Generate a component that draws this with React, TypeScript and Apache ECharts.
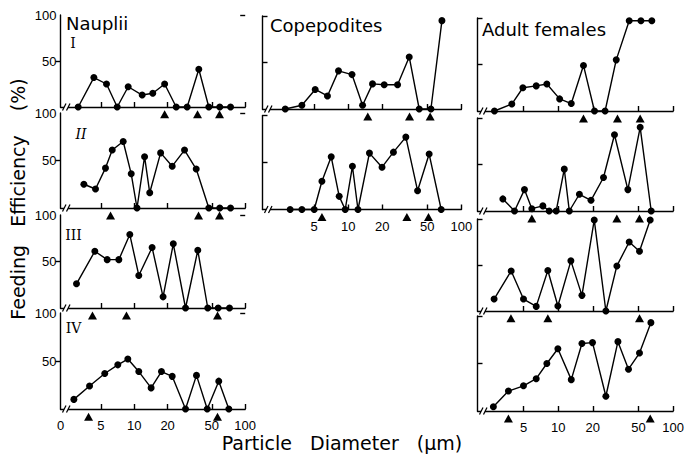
import React, { useEffect, useRef } from "react";
import * as echarts from "echarts";

// ---------- data (diameter in µm, feeding efficiency in %) ----------
const naupliiIDiam = [3.13, 4.33, 5.63, 7.03, 8.83, 11.8, 14.7, 18.8, 23.9, 30.0, 38.2, 47.0, 59.0, 73.8];
const naupliiIEff = [0, 32, 25, 0, 22, 13, 15, 25, 0, 0, 41, 0, 0, 0];
const naupliiITri = [18.8, 37.2, 58.7];

const naupliiIIDiam = [3.52, 4.48, 5.51, 6.34, 7.96, 9.4, 10.6, 12.4, 13.8, 17.3, 22.0, 28.4, 36.2, 47.0, 59.0, 73.8];
const naupliiIIEff = [25, 20, 42, 61, 70, 36, 0, 54, 16, 58, 44, 61, 41, 0, 0, 0];
const naupliiIITri = [6.12, 38.0, 58.7];

const naupliiIIIDiam = [3.02, 4.42, 5.71, 7.27, 9.13, 11.0, 14.5, 18.2, 22.5, 29.0, 37.4, 46.0, 57.1, 72.2];
const naupliiIIIEff = [26, 61, 52, 52, 79, 35, 65, 12, 69, 0, 62, 0, 0, 0];
const naupliiIIITri = [4.21, 8.52, 56.3];

const naupliiIVDiam = [2.86, 3.96, 5.43, 7.12, 8.76, 11.0, 14.2, 17.6, 22.0, 29.0, 36.4, 45.5, 57.8, 71.2];
const naupliiIVEff = [10, 24, 37, 46, 52, 39, 22, 39, 34, 0, 35, 0, 29, 0];
const naupliiIVTri = [3.88, 56.3];

const copeIDiam = [2.78, 3.9, 5.11, 6.56, 8.21, 10.8, 13.4, 16.4, 20.8, 27.3, 34.6, 42.4, 53.8, 67.3];
const copeIEff = [0, 4, 21, 14, 41, 37, 4, 27, 26, 26, 56, 0, 0, 95];
const copeITri = [14.9, 34.8, 53.0];

const copeIIDiam = [3.07, 3.9, 5.01, 5.86, 7.08, 8.33, 9.41, 10.9, 12.2, 15.4, 19.9, 25.1, 32.3, 41.0, 51.9, 66.3];
const copeIIEff = [0, 0, 0, 30, 56, 14, 0, 46, 0, 60, 45, 61, 77, 20, 59, 0];
const copeIITri = [5.86, 33.0, 51.2];

const adultIDiam = [2.79, 3.95, 4.93, 6.44, 7.97, 10.3, 13.0, 16.6, 20.7, 25.6, 32.0, 41.5, 52.5, 65.3];
const adultIEff = [0, 7.5, 25, 27, 29, 13, 8, 49, 0, 0, 55, 97, 97, 97];
const adultITri = [16.6, 32.8, 51.7];

const adultIIDiam = [3.3, 4.17, 5.09, 5.9, 7.36, 8.35, 9.61, 11.3, 12.5, 15.3, 19.3, 24.8, 30.9, 40.4, 51.7, 64.5];
const adultIIEff = [13, 0, 23, 2.5, 5.5, 0, 0, 45, 0, 18, 11.5, 36, 82, 23, 90, 0];
const adultIITri = [5.9, 32.4, 51.0];

const adultIIIDiam = [2.77, 3.9, 4.99, 6.44, 8.13, 9.94, 12.9, 16.1, 20.6, 26.0, 32.4, 41.5, 51.0, 63.2];
const adultIIIEff = [13, 43.5, 13, 5, 44, 5.5, 54.5, 17, 99, 0, 49, 75, 65, 99];
const adultIIITri = [3.88, 8.13, 51.0];

const adultIVDiam = [2.73, 3.69, 4.99, 6.44, 7.97, 9.94, 13.0, 16.1, 19.9, 26.0, 33.1, 40.9, 51.0, 64.1];
const adultIVEff = [4.5, 21, 26.5, 34, 50, 65.5, 33, 71, 72, 15.5, 73, 44, 61, 93];
const adultIVTri = [3.69, 63.2];

const columnTitles = ["Nauplii", "Copepodites", "Adult females"];
const rowNumerals = ["I", "II", "III", "IV"];
const xTickDiams = [5, 10, 20, 50, 100];
const xZeroLabel = "0";
const yTickValues = [50, 100];
const yAxisTitle = "Feeding   Efficiency    (%)";
const xAxisTitle = "Particle   Diameter   (\u00b5m)";

// ---------- layout ----------
const LOG_MAX = 2;
const colMin = [0.336, 0.243, 0.298];
const colLeft = [60.5, 262.5, 477.5];
const colWidth = [184.7, 198.9, 195.6];
const rowBox: number[][][] = [
  [[15, 92], [113, 95], [215, 93], [313, 96]],
  [[16, 93], [115.5, 94]],
  [[18, 93], [118, 93], [219, 92], [316, 95]],
];
const TRI_Y = -8;
const FONT = "DejaVu Sans";
const TICK_FONT = "Liberation Sans";

const panels = [
  { col: 0, row: 0, diam: naupliiIDiam, eff: naupliiIEff, tri: naupliiITri },
  { col: 0, row: 1, diam: naupliiIIDiam, eff: naupliiIIEff, tri: naupliiIITri },
  { col: 0, row: 2, diam: naupliiIIIDiam, eff: naupliiIIIEff, tri: naupliiIIITri },
  { col: 0, row: 3, diam: naupliiIVDiam, eff: naupliiIVEff, tri: naupliiIVTri, bottom: true },
  { col: 1, row: 0, diam: copeIDiam, eff: copeIEff, tri: copeITri },
  { col: 1, row: 1, diam: copeIIDiam, eff: copeIIEff, tri: copeIITri, bottom: true },
  { col: 2, row: 0, diam: adultIDiam, eff: adultIEff, tri: adultITri },
  { col: 2, row: 1, diam: adultIIDiam, eff: adultIIEff, tri: adultIITri },
  { col: 2, row: 2, diam: adultIIIDiam, eff: adultIIIEff, tri: adultIIITri },
  { col: 2, row: 3, diam: adultIVDiam, eff: adultIVEff, tri: adultIVTri, bottom: true },
];

const black = "#000";
const lineStyle = { color: black, width: 1.4 };

function buildOption() {
  const xTickVals = xTickDiams.map((d) => Math.log10(d));
  const grid: any[] = [];
  const xAxis: any[] = [];
  const yAxis: any[] = [];
  const series: any[] = [];
  panels.forEach((p, i) => {
    const [top, height] = rowBox[p.col][p.row];
    grid.push({ left: colLeft[p.col], top, width: colWidth[p.col], height, containLabel: false });
    const min = colMin[p.col];
    xAxis.push({
      type: "value",
      gridIndex: i,
      min,
      max: LOG_MAX,
      position: "bottom",
      axisLine: { show: true, onZero: false, lineStyle },
      axisTick: { show: true, inside: true, length: 5, customValues: xTickVals, lineStyle },
      axisLabel: {
        show: !!p.bottom,
        customValues: p.col === 0 ? [min, ...xTickVals] : xTickVals,
        formatter: (v: number) => (v < 0.5 ? xZeroLabel : String(Math.round(Math.pow(10, v)))),
        color: black,
        fontSize: 13,
        fontFamily: TICK_FONT,
        margin: 10,
      },
      splitLine: { show: false },
    });
    const yIdx = yAxis.length;
    if (p.col === 0) {
      yAxis.push({
        type: "value",
        gridIndex: i,
        min: 0,
        max: 100,
        axisLine: { show: true, onZero: false, lineStyle },
        axisTick: { show: true, inside: false, length: 5, customValues: [50], lineStyle },
        axisLabel: {
          show: true,
          customValues: yTickValues,
          color: black,
          fontSize: 13,
          fontFamily: TICK_FONT,
          margin: 4,
        },
        splitLine: { show: false },
      });
      yAxis.push({
        type: "value",
        gridIndex: i,
        min: 0,
        max: 100,
        axisLine: { show: false, onZero: false },
        axisTick: { show: true, inside: true, length: 5, customValues: [100], lineStyle },
        axisLabel: { show: false },
        splitLine: { show: false },
      });
    } else {
      yAxis.push({
        type: "value",
        gridIndex: i,
        min: 0,
        max: 100,
        axisLine: { show: true, onZero: false, lineStyle },
        axisTick: { show: true, inside: true, length: 5, customValues: yTickValues, lineStyle },
        axisLabel: { show: false },
        splitLine: { show: false },
      });
    }
    series.push({
      type: "line",
      xAxisIndex: i,
      yAxisIndex: yIdx,
      data: p.diam.map((d, k) => [Math.log10(d), p.eff[k]]),
      symbol: "circle",
      symbolSize: 7,
      showSymbol: true,
      clip: false,
      lineStyle,
      itemStyle: { color: black },
      silent: true,
    });
    series.push({
      type: "scatter",
      xAxisIndex: i,
      yAxisIndex: yIdx,
      data: p.tri.map((d) => [Math.log10(d), TRI_Y]),
      symbol: "triangle",
      symbolSize: [9, 8],
      clip: false,
      itemStyle: { color: black, opacity: 1 },
      silent: true,
    });
  });
  return { animation: false, backgroundColor: "#fff", grid, xAxis, yAxis, series };
}

const textStyle = (text: string, size: number, family: string, extra: any = {}) => ({
  text,
  x: 0,
  y: 0,
  fill: black,
  fontSize: size,
  fontFamily: family,
  ...extra,
});

export default function App() {
  const ref = useRef<HTMLDivElement>(null);
  useEffect(() => {
    if (!ref.current) return;
    const chart = echarts.init(ref.current, null, { renderer: "svg" });
    chart.setOption(buildOption());

    const g: any[] = [];
    // column titles
    const titlePos = [
      [66, 23],
      [270, 25],
      [482, 29],
    ];
    columnTitles.forEach((t, c) => {
      g.push({
        type: "text",
        x: titlePos[c][0],
        y: titlePos[c][1],
        z: 100,
        style: textStyle(t, 18, FONT, { align: "left", verticalAlign: "middle" }),
      });
    });
    // row numerals (Nauplii column)
    const numPos = [
      [73, 43],
      [81, 134],
      [73.5, 235],
      [73.5, 328],
    ];
    rowNumerals.forEach((t, r) => {
      g.push({
        type: "text",
        x: numPos[r][0],
        y: numPos[r][1],
        z: 100,
        style: textStyle(t, 14, "DejaVu Serif", {
          align: "center",
          verticalAlign: "middle",
          fontStyle: r === 1 ? "italic" : "normal",
        }),
      });
    });
    // axis titles
    g.push({
      type: "text",
      x: 18,
      y: 199,
      rotation: Math.PI / 2,
      z: 100,
      style: textStyle(yAxisTitle, 19, FONT, { align: "center", verticalAlign: "middle" }),
    });
    g.push({
      type: "text",
      x: 342,
      y: 443,
      z: 100,
      style: textStyle(xAxisTitle, 19, FONT, { align: "center", verticalAlign: "middle" }),
    });
    // axis break marks "//"
    panels.forEach((p, i) => {
      const pt = chart.convertToPixel({ gridIndex: i } as any, [colMin[p.col], 0]) as number[];
      if (!pt) return;
      const [x0, y0] = pt;
      g.push({
        type: "rect",
        z: 100,
        shape: { x: x0 + 3.5, y: y0 - 2, width: 4, height: 4 },
        style: { fill: "#fff" },
      });
      [2, 6].forEach((dx) => {
        g.push({
          type: "line",
          z: 101,
          shape: { x1: x0 + dx, y1: y0 + 3.5, x2: x0 + dx + 3.5, y2: y0 - 3.5 },
          style: { stroke: black, lineWidth: 1.2 },
        });
      });
    });
    chart.setOption({ graphic: g });
    return () => chart.dispose();
  }, []);
  return (
    <div
      ref={ref}
      style={{ position: "fixed", left: 0, top: 0, width: 687, height: 457, background: "#fff" }}
    />
  );
}
